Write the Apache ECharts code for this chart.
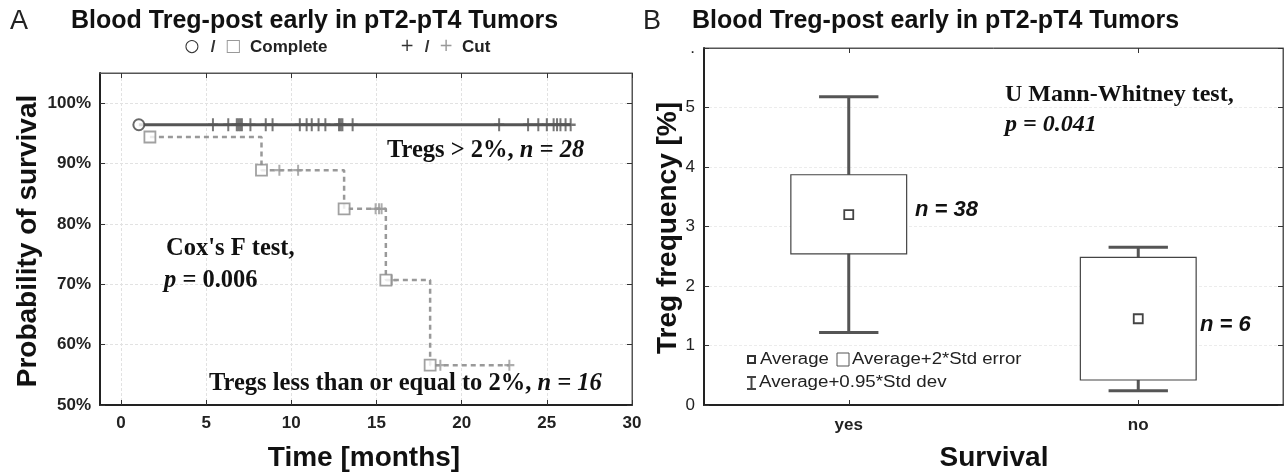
<!DOCTYPE html>
<html><head><meta charset="utf-8">
<script src="https://cdn.jsdelivr.net/npm/echarts@6/dist/echarts.min.js"></script>
<style>html,body{margin:0;padding:0;background:#fff}#c{width:1287px;height:476px}</style>
</head><body><div id="c"></div>
<script>
// ---------- Panel A: Kaplan-Meier ----------
const xTicksA = [0, 5, 10, 15, 20, 25, 30];
const yTicksA = [50, 60, 70, 80, 90, 100];
// Tregs > 2%, n = 28
const hiStepTime = [1.05, 26.4];
const hiStepSurv = [96.43, 96.43];
const hiEventTime = [1.05];
const hiEventSurv = [96.43];
const hiCensTime = [5.4, 6.3, 6.8, 6.9, 7.0, 7.1, 7.6, 8.5, 8.9, 10.5, 10.9, 11.2, 11.6, 12.0, 12.8, 12.9, 13.0, 13.6, 22.2, 23.9, 24.5, 25.0, 25.4, 25.6, 25.8, 26.1, 26.4];
const hiCensSurv = [96.43, 96.43, 96.43, 96.43, 96.43, 96.43, 96.43, 96.43, 96.43, 96.43, 96.43, 96.43, 96.43, 96.43, 96.43, 96.43, 96.43, 96.43, 96.43, 96.43, 96.43, 96.43, 96.43, 96.43, 96.43, 96.43, 96.43];
// Tregs <= 2%, n = 16
const loStepTime = [1.7, 8.25, 13.1, 15.55, 18.15, 22.8];
const loStepSurv = [94.4, 88.9, 82.5, 70.7, 56.6, 56.6];
const loEventTime = [1.7, 8.25, 13.1, 15.55, 18.15];
const loEventSurv = [94.4, 88.9, 82.5, 70.7, 56.6];
const loCensTime = [9.3, 10.4, 14.95, 15.15, 15.3, 15.9, 18.75, 22.8];
const loCensSurv = [88.9, 88.9, 82.5, 82.5, 82.5, 70.7, 56.6, 56.6];

// ---------- Panel B: box plots ----------
const survCats = ['yes', 'no'];
const whiskLow = [1.22, 0.24];
const boxLow = [2.54, 0.42];
const means = [3.2, 1.45];
const boxHigh = [3.87, 2.48];
const whiskHigh = [5.18, 2.65];
const yTicksB = [0, 1, 2, 3, 4, 5, 6];

const SANS = '"Liberation Sans", Arial, sans-serif';
const SERIF = '"Liberation Serif", "Times New Roman", serif';
const zip = (a, b) => a.map((v, i) => [v, b[i]]);
const plusPath = 'path://M4,0H6V4H10V6H6V10H4V6H0V4H4Z';

const chart = echarts.init(document.getElementById('c'), null, {renderer: 'canvas'});

const boxData = survCats.map((c, i) => [i, whiskLow[i], boxLow[i], means[i], boxHigh[i], whiskHigh[i]]);

const annSerif = 'bold 24.5px ' + SERIF;
const annSerifIt = 'italic bold 24.5px ' + SERIF;

const graphics = [
  {type: 'text', x: 10, y: 22, style: {text: 'A', font: 'normal 27px ' + SANS, fill: '#222', textVerticalAlign: 'middle'}},
  {type: 'text', x: 71, y: 21, style: {text: 'Blood Treg-post early in pT2-pT4 Tumors', font: 'bold 25px ' + SANS, fill: '#111', textVerticalAlign: 'middle'}},
  {type: 'text', x: 643, y: 22, style: {text: 'B', font: 'normal 27px ' + SANS, fill: '#222', textVerticalAlign: 'middle'}},
  {type: 'text', x: 692, y: 21, style: {text: 'Blood Treg-post early in pT2-pT4 Tumors', font: 'bold 25px ' + SANS, fill: '#111', textVerticalAlign: 'middle'}},
  // top legend of panel A
  {type: 'text', x: 192, y: 47, style: {text: '○', font: 'normal 17px "DejaVu Sans"', fill: '#333', textAlign: 'center', textVerticalAlign: 'middle'}},
  {type: 'text', x: 213, y: 47, style: {text: '/', font: 'bold 17px ' + SANS, fill: '#333', textAlign: 'center', textVerticalAlign: 'middle'}},
  {type: 'text', x: 233, y: 47, style: {text: '□', font: 'normal 17px "DejaVu Sans"', fill: '#999', textAlign: 'center', textVerticalAlign: 'middle'}},
  {type: 'text', x: 250, y: 47, style: {text: 'Complete', font: 'bold 17px ' + SANS, fill: '#222', textVerticalAlign: 'middle'}},
  {type: 'text', x: 407, y: 47, style: {text: '+', font: 'normal 17px "DejaVu Sans"', fill: '#333', textAlign: 'center', textVerticalAlign: 'middle'}},
  {type: 'text', x: 427, y: 47, style: {text: '/', font: 'bold 17px ' + SANS, fill: '#333', textAlign: 'center', textVerticalAlign: 'middle'}},
  {type: 'text', x: 446, y: 47, style: {text: '+', font: 'normal 17px "DejaVu Sans"', fill: '#999', textAlign: 'center', textVerticalAlign: 'middle'}},
  {type: 'text', x: 462, y: 47, style: {text: 'Cut', font: 'bold 17px ' + SANS, fill: '#222', textVerticalAlign: 'middle'}},
  // axis names
  {type: 'text', x: 28, y: 241, rotation: Math.PI / 2, style: {text: 'Probability of survival', font: 'bold 28px ' + SANS, fill: '#111', textAlign: 'center', textVerticalAlign: 'middle'}},
  {type: 'text', x: 364, y: 458, style: {text: 'Time [months]', font: 'bold 28px ' + SANS, fill: '#111', textAlign: 'center', textVerticalAlign: 'middle'}},
  {type: 'text', x: 668, y: 228, rotation: Math.PI / 2, style: {text: 'Treg frequency [%]', font: 'bold 28px ' + SANS, fill: '#111', textAlign: 'center', textVerticalAlign: 'middle'}},
  {type: 'text', x: 994, y: 458, style: {text: 'Survival', font: 'bold 28px ' + SANS, fill: '#111', textAlign: 'center', textVerticalAlign: 'middle'}},
  // annotations panel A
  {type: 'text', x: 387, y: 151, style: {text: '{a|Tregs > 2%, }{b|n = 28}', textVerticalAlign: 'middle',
    rich: {a: {font: annSerif, fill: '#111'}, b: {font: annSerifIt, fill: '#111'}}}},
  {type: 'text', x: 166, y: 249, style: {text: "Cox's F test,", font: annSerif, fill: '#111', textVerticalAlign: 'middle'}},
  {type: 'text', x: 164, y: 281, style: {text: '{b|p}{a| = 0.006}', textVerticalAlign: 'middle',
    rich: {a: {font: annSerif, fill: '#111'}, b: {font: annSerifIt, fill: '#111'}}}},
  {type: 'text', x: 209, y: 384, style: {text: '{a|Tregs less than or equal to 2%, }{b|n = 16}', textVerticalAlign: 'middle',
    rich: {a: {font: annSerif, fill: '#111'}, b: {font: annSerifIt, fill: '#111'}}}},
  // annotations panel B
  {type: 'text', x: 1005, y: 95, style: {text: 'U Mann-Whitney test,', font: 'bold 24px ' + SERIF, fill: '#111', textVerticalAlign: 'middle'}},
  {type: 'text', x: 1005, y: 125, style: {text: 'p = 0.041', font: 'italic bold 24px ' + SERIF, fill: '#111', textVerticalAlign: 'middle'}},
  {type: 'text', x: 915, y: 210, style: {text: 'n = 38', font: 'italic bold 22px ' + SANS, fill: '#111', textVerticalAlign: 'middle'}},
  {type: 'text', x: 1200, y: 325, style: {text: 'n = 6', font: 'italic bold 22px ' + SANS, fill: '#111', textVerticalAlign: 'middle'}},
  // legend panel B
  {type: 'rect', shape: {x: 748, y: 356, width: 7, height: 7}, style: {fill: '#fff', stroke: '#333', lineWidth: 2}},
  {type: 'text', x: 760, y: 360, scaleX: 1.16, style: {text: 'Average', font: 'normal 16px ' + SANS, fill: '#222', textVerticalAlign: 'middle'}},
  {type: 'rect', shape: {x: 837, y: 353, width: 12, height: 13}, style: {fill: '#fff', stroke: '#555', lineWidth: 1}},
  {type: 'text', x: 852, y: 360, scaleX: 1.16, style: {text: 'Average+2*Std error', font: 'normal 16px ' + SANS, fill: '#222', textVerticalAlign: 'middle'}},
  {type: 'polyline', shape: {points: [[747, 377], [756, 377]]}, style: {stroke: '#444', lineWidth: 2}},
  {type: 'polyline', shape: {points: [[747, 389], [756, 389]]}, style: {stroke: '#444', lineWidth: 2}},
  {type: 'polyline', shape: {points: [[751.5, 377], [751.5, 389]]}, style: {stroke: '#444', lineWidth: 2}},
  {type: 'text', x: 759, y: 383, scaleX: 1.17, style: {text: 'Average+0.95*Std dev', font: 'normal 16px ' + SANS, fill: '#222', textVerticalAlign: 'middle'}}
].map(g => Object.assign({z: 100}, g));

const option = {
  backgroundColor: '#ffffff',
  animation: false,
  grid: [
    {left: 100, top: 73, right: 655, bottom: 71, show: true, borderColor: '#555', borderWidth: 1, backgroundColor: 'transparent'},
    {left: 704, top: 48, right: 4, bottom: 71, show: true, borderColor: '#555', borderWidth: 1, backgroundColor: 'transparent'}
  ],
  xAxis: [
    {gridIndex: 0, type: 'value', min: -1.23, max: 30, position: 'bottom',
     axisLine: {show: true, onZero: false, lineStyle: {color: '#222', width: 2}},
     axisTick: {show: true, inside: true, length: 5, customValues: xTicksA, lineStyle: {color: '#333'}},
     axisLabel: {customValues: xTicksA, fontSize: 17, fontWeight: 'bold', color: '#222', margin: 10, fontFamily: SANS},
     splitLine: {show: true, lineStyle: {color: '#e2e2e2', type: [3, 2]}}},
    {gridIndex: 0, type: 'value', min: -1.23, max: 30, position: 'top',
     axisLine: {show: true, onZero: false, lineStyle: {color: '#555', width: 1}},
     axisTick: {show: true, inside: true, length: 5, customValues: xTicksA, lineStyle: {color: '#333'}},
     axisLabel: {show: false}, splitLine: {show: false}},
    {gridIndex: 1, type: 'category', data: survCats, position: 'bottom',
     axisLine: {show: true, onZero: false, lineStyle: {color: '#222', width: 2}},
     axisTick: {show: true, inside: true, alignWithLabel: true, length: 5, lineStyle: {color: '#333'}},
     axisLabel: {fontSize: 17, fontWeight: 'bold', color: '#222', margin: 12, fontFamily: SANS},
     splitLine: {show: false}},
    {gridIndex: 1, type: 'category', data: survCats, position: 'top',
     axisLine: {show: true, onZero: false, lineStyle: {color: '#555', width: 1}},
     axisTick: {show: true, inside: true, alignWithLabel: true, length: 5, lineStyle: {color: '#333'}},
     axisLabel: {show: false}, splitLine: {show: false}}
  ],
  yAxis: [
    {gridIndex: 0, type: 'value', min: 50, max: 105, position: 'left',
     axisLine: {show: true, onZero: false, lineStyle: {color: '#222', width: 2}},
     axisTick: {show: true, inside: true, length: 5, customValues: yTicksA, lineStyle: {color: '#333'}},
     axisLabel: {customValues: yTicksA, formatter: v => v + '%', fontSize: 17, fontWeight: 'bold', color: '#222', margin: 9, fontFamily: SANS},
     splitLine: {show: true, lineStyle: {color: '#e2e2e2', type: [3, 2]}}},
    {gridIndex: 0, type: 'value', min: 50, max: 105, position: 'right',
     axisLine: {show: true, onZero: false, lineStyle: {color: '#555', width: 1}},
     axisTick: {show: true, inside: true, length: 5, customValues: yTicksA, lineStyle: {color: '#333'}},
     axisLabel: {show: false}, splitLine: {show: false}},
    {gridIndex: 1, type: 'value', min: 0, max: 6, interval: 1, position: 'left',
     axisLine: {show: true, onZero: false, lineStyle: {color: '#222', width: 2}},
     axisTick: {show: true, inside: true, length: 5, lineStyle: {color: '#333'}},
     axisLabel: {formatter: v => (v === 6 ? '.' : String(v)), fontSize: 17, color: '#222', margin: 9, fontFamily: SANS},
     splitLine: {show: true, lineStyle: {color: '#ececec', type: [3, 2]}}},
    {gridIndex: 1, type: 'value', min: 0, max: 6, interval: 1, position: 'right',
     axisLine: {show: true, onZero: false, lineStyle: {color: '#555', width: 1}},
     axisTick: {show: true, inside: true, length: 5, lineStyle: {color: '#333'}},
     axisLabel: {show: false}, splitLine: {show: false}}
  ],
  series: [
    {type: 'line', xAxisIndex: 0, yAxisIndex: 0, step: 'end', data: zip(hiStepTime, hiStepSurv),
     showSymbol: false, symbol: 'none', lineStyle: {color: '#555', width: 3}, z: 2},
    {type: 'line', xAxisIndex: 0, yAxisIndex: 0, step: 'end', data: zip(loStepTime, loStepSurv),
     showSymbol: false, symbol: 'none', lineStyle: {color: '#999', width: 2.5, type: [5, 4]}, z: 2},
    {type: 'scatter', xAxisIndex: 0, yAxisIndex: 0, data: zip(hiCensTime, hiCensSurv),
     symbol: plusPath, symbolSize: [10, 13], itemStyle: {color: '#555'}, z: 3},
    {type: 'scatter', xAxisIndex: 0, yAxisIndex: 0, data: zip(loCensTime, loCensSurv),
     symbol: plusPath, symbolSize: [10, 11], itemStyle: {color: '#999'}, z: 3},
    {type: 'scatter', xAxisIndex: 0, yAxisIndex: 0, data: zip(hiEventTime, hiEventSurv),
     symbol: 'circle', symbolSize: 11, itemStyle: {color: '#fff', borderColor: '#444', borderWidth: 2}, z: 4},
    {type: 'scatter', xAxisIndex: 0, yAxisIndex: 0, data: zip(loEventTime, loEventSurv),
     symbol: 'rect', symbolSize: 11, itemStyle: {color: '#fff', borderColor: '#8a8a8a', borderWidth: 1.8}, z: 4},
    {type: 'custom', xAxisIndex: 2, yAxisIndex: 2, data: boxData,
     encode: {x: 0, y: [1, 2, 3, 4, 5]},
     renderItem: function (params, api) {
       const c = api.value(0);
       const pLow = api.coord([c, api.value(1)]);
       const pQ1 = api.coord([c, api.value(2)]);
       const pMean = api.coord([c, api.value(3)]);
       const pQ3 = api.coord([c, api.value(4)]);
       const pHigh = api.coord([c, api.value(5)]);
       const bw = api.size([1, 0])[0];
       const boxW = bw * 0.4, capW = bw * 0.205;
       const x = pMean[0];
       const ws = {stroke: '#555', lineWidth: 3};
       return {type: 'group', children: [
         {type: 'line', shape: {x1: x, y1: pHigh[1], x2: x, y2: pLow[1]}, style: ws},
         {type: 'line', shape: {x1: x - capW / 2, y1: pHigh[1], x2: x + capW / 2, y2: pHigh[1]}, style: ws},
         {type: 'line', shape: {x1: x - capW / 2, y1: pLow[1], x2: x + capW / 2, y2: pLow[1]}, style: ws},
         {type: 'rect', shape: {x: x - boxW / 2, y: pQ3[1], width: boxW, height: pQ1[1] - pQ3[1]},
          style: {fill: '#fff', stroke: '#444', lineWidth: 1.2}},
         {type: 'rect', shape: {x: x - 4.5, y: pMean[1] - 4.5, width: 9, height: 9},
          style: {fill: '#fff', stroke: '#444', lineWidth: 1.8}}
       ]};
     }, z: 3}
  ],
  graphic: graphics
};
chart.setOption(option);
</script>
</body></html>
